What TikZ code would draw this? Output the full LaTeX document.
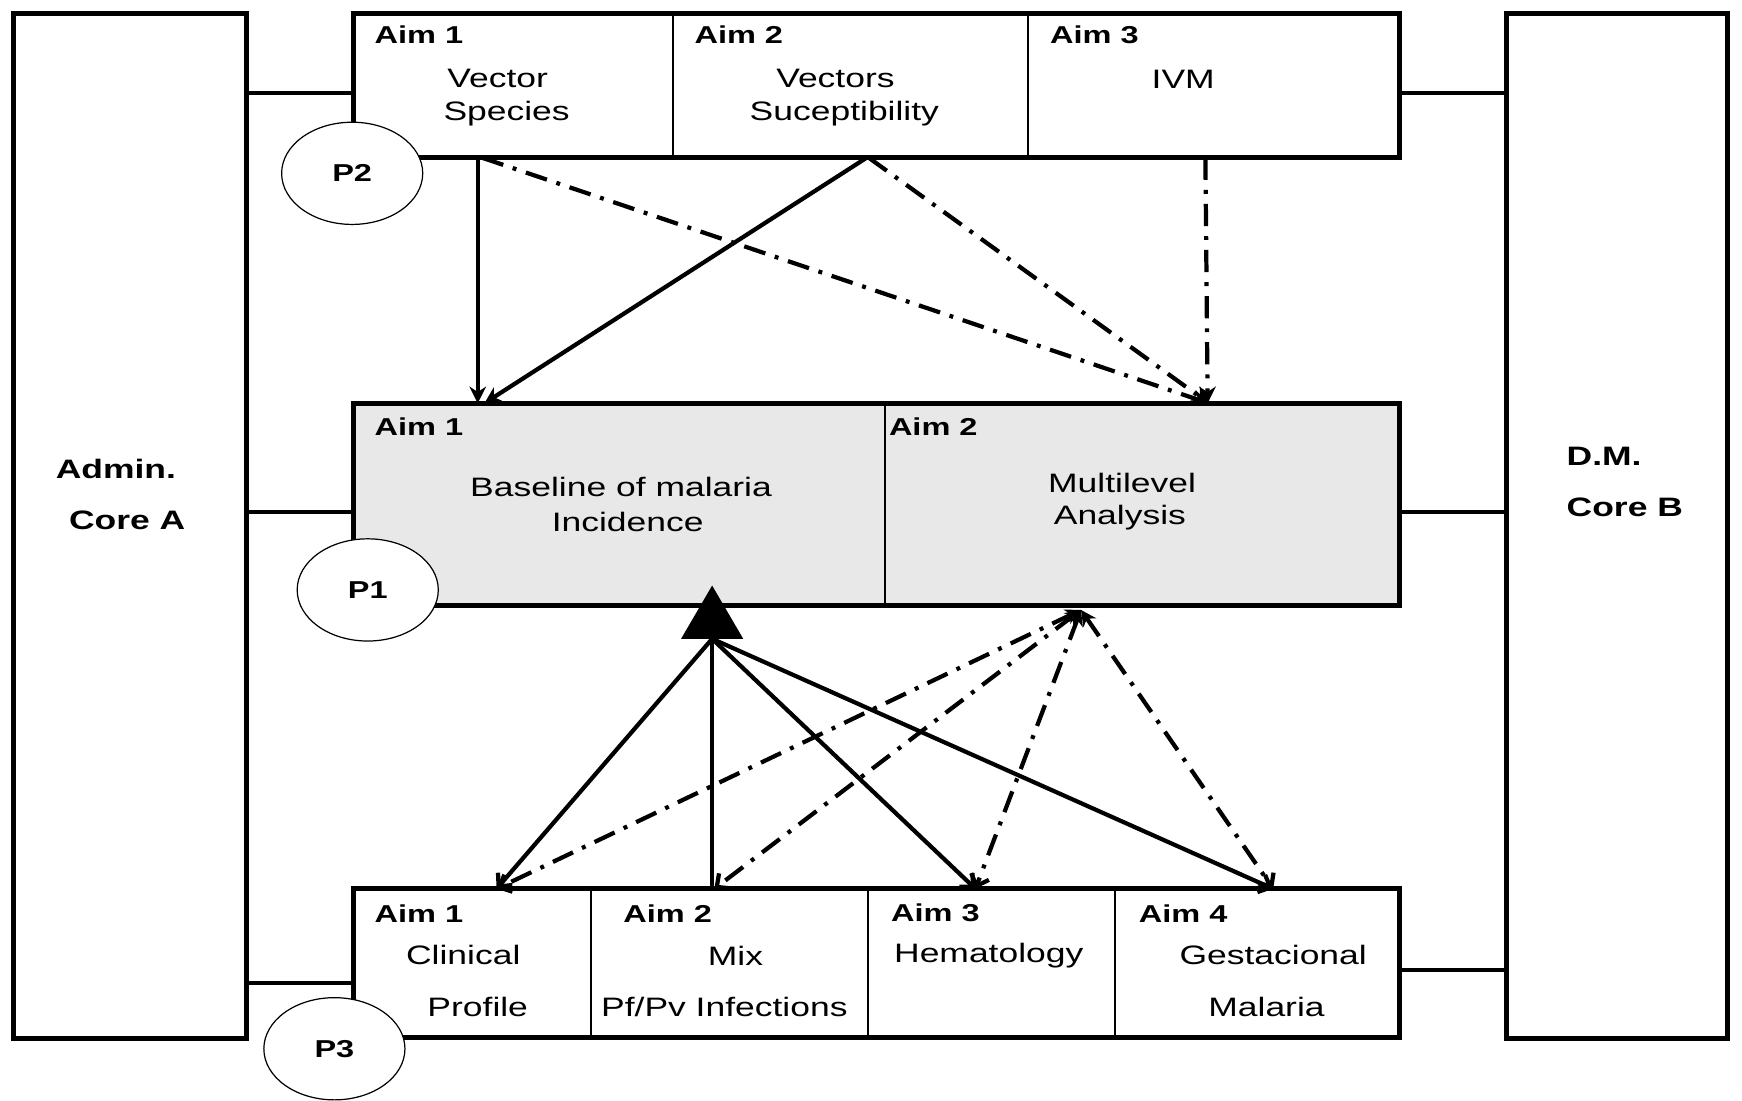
\documentclass[tikz,border=0pt]{standalone}
\usepackage{fontspec}
\setmainfont{Liberation Sans}[FakeStretch=1.33]
\usetikzlibrary{arrows.meta,shapes.geometric}
\tikzset{
  frame/.style={draw, line width=4.4pt, inner sep=0pt, outer sep=0pt},
  cell/.style={draw, line width=1.8pt, inner sep=0pt, outer sep=0pt},
  aim/.style={font=\fontsize{22}{24}\selectfont\bfseries, anchor=west, inner sep=0pt},
  lbl/.style={font=\fontsize{24}{28}\selectfont, inner sep=0pt},
  core/.style={font=\fontsize{24}{28}\selectfont\bfseries, anchor=west, inner sep=0pt},
  pcirc/.style={draw, ellipse, line width=1.1pt, fill=white, minimum width=127pt, minimum height=92pt, inner sep=0pt, font=\fontsize{22}{24}\selectfont\bfseries},
  link/.style={line width=3.4pt},
  solidarrow/.style={line width=3.8pt, -{Stealth[length=15pt,width=15pt]}},
  solidopen/.style={line width=3.8pt, -{Straight Barb[length=9pt,width=17pt]}},
  dashpat/.style={line width=3.8pt, dash pattern=on 20pt off 9pt on 3.5pt off 9pt},
  dasharrow/.style={dashpat, -{Stealth[length=15pt,width=15pt]}},
  dashboth/.style={dashpat, {Stealth[length=14pt,width=14pt]}-{Straight Barb[length=9pt,width=17pt]}},
}
\begin{document}
\begin{tikzpicture}[x=1pt,y=-1pt]
\useasboundingbox (0,0) rectangle (1568,991);

% side cores
\node[frame, minimum width=210pt, minimum height=923pt] (coreA) at (117,473.5) {};
\node[frame, minimum width=199pt, minimum height=923pt] (coreB) at (1455.5,473.5) {};
\node[core] (adm) at (50,422) {Admin.};
\node[core] (coa) at (62,468) {Core A};
\node[core] (dm) at (1410,411) {D.M.};
\node[core] (cob) at (1410,457) {Core B};

% top project P2
\node[cell, minimum width=288pt, minimum height=130pt] (t1) at (462,77) {};
\node[cell, minimum width=319pt, minimum height=130pt] (t2) at (765.5,77) {};
\node[cell, minimum width=335pt, minimum height=130pt] (t3) at (1092.5,77) {};
\node[frame, minimum width=942pt, minimum height=130pt] (p2box) at (789,77) {};

% middle project P1
\node[cell, fill=black!9, minimum width=479pt, minimum height=182pt] (m1) at (557.5,454) {};
\node[cell, fill=black!9, minimum width=463pt, minimum height=182pt] (m2) at (1028.5,454) {};
\node[frame, minimum width=942pt, minimum height=182pt] (p1box) at (789,454) {};

% bottom project P3
\node[cell, minimum width=214pt, minimum height=134pt] (b1) at (425,867) {};
\node[cell, minimum width=249pt, minimum height=134pt] (b2) at (656.5,867) {};
\node[cell, minimum width=223pt, minimum height=134pt] (b3) at (892.5,867) {};
\node[cell, minimum width=256pt, minimum height=134pt] (b4) at (1132,867) {};
\node[frame, minimum width=942pt, minimum height=134pt] (p3box) at (789,867) {};

% texts top
\node[aim] (ta1) at (337,31) {Aim 1};
\node[lbl] (tx1a) at (448,71) {Vector};
\node[lbl] (tx1b) at (456,102) {Species};
\node[aim] (ta2) at (625,31) {Aim 2};
\node[lbl] (tx2a) at (752,71) {Vectors};
\node[lbl] (tx2b) at (760,102) {Suceptibility};
\node[aim] (ta3) at (945,31) {Aim 3};
\node[lbl] (tx3a) at (1065,71) {IVM};

% texts middle
\node[aim] (ma1) at (337,384) {Aim 1};
\node[lbl] (mx1a) at (559,438) {Baseline of malaria};
\node[lbl] (mx1b) at (565,470) {Incidence};
\node[aim] (ma2) at (800,384) {Aim 2};
\node[lbl] (mx2a) at (1010,435) {Multilevel};
\node[lbl] (mx2b) at (1008,466) {Analysis};

% texts bottom
\node[aim] (ba1) at (337,822) {Aim 1};
\node[lbl] (bx1a) at (417,860) {Clinical};
\node[lbl] (bx1b) at (430,906) {Profile};
\node[aim] (ba2) at (561,822) {Aim 2};
\node[lbl] (bx2a) at (662,860) {Mix};
\node[lbl] (bx2b) at (652,906) {Pf/Pv Infections};
\node[aim] (ba3) at (802,822) {Aim 3};
\node[lbl] (bx3a) at (890,860) {Hematology};
\node[aim] (ba4) at (1025,822) {Aim 4};
\node[lbl] (bx4a) at (1146,860) {Gestacional};
\node[lbl] (bx4b) at (1140,906) {Malaria};

% links to cores
\draw[link] (coreA.east |- 0,84) -- (p2box.west |- 0,84);
\draw[link] (coreA.east |- 0,461) -- (p1box.west |- 0,461);
\draw[link] (coreA.east |- 0,885) -- (p3box.west |- 0,885);
\draw[link] (p2box.east |- 0,84) -- (coreB.west |- 0,84);
\draw[link] (p1box.east |- 0,461) -- (coreB.west |- 0,461);
\draw[link] (p3box.east |- 0,873) -- (coreB.west |- 0,873);

% top arrows
\draw[solidarrow] (p2box.south -| 430,0) -- (p1box.north -| 430,0);
\draw[solidarrow] (p2box.south -| 780,0) -- (p1box.north -| 436,0);
\draw[dasharrow] (p2box.south -| 434,0) -- (p1box.north -| 1088,0);
\draw[dasharrow] (p2box.south -| 782,0) -- (p1box.north -| 1088,0);
\draw[dasharrow] (p2box.south -| 1085,0) -- (p1box.north -| 1087,0);

% bottom arrows
\coordinate (apex) at (641,527);
\coordinate (tribase) at (641,575);
\coordinate (dtop) at (973,549);
\draw[dashboth] (dtop) -- (p3box.north -| 447,0);
\draw[dashboth] (dtop) -- (p3box.north -| 643,0);
\draw[dashboth] (dtop) -- (p3box.north -| 878,0);
\draw[dashboth] (dtop) -- (p3box.north -| 1146,0);
\draw[line width=3.8pt, -{Triangle[length=48pt,width=55pt]}] (p3box.north -| 641,0) -- (apex);
\draw[solidopen] (tribase) -- (p3box.north -| 447,0);
\draw[solidopen] (tribase) -- (p3box.north -| 878,0);
\draw[solidopen] (tribase) -- (p3box.north -| 1146,0);

% project circles
\node[pcirc] (P2) at (317,156) {P2};
\node[pcirc] (P1) at (331,531) {P1};
\node[pcirc] (P3) at (301,944) {P3};
\end{tikzpicture}
\end{document}
